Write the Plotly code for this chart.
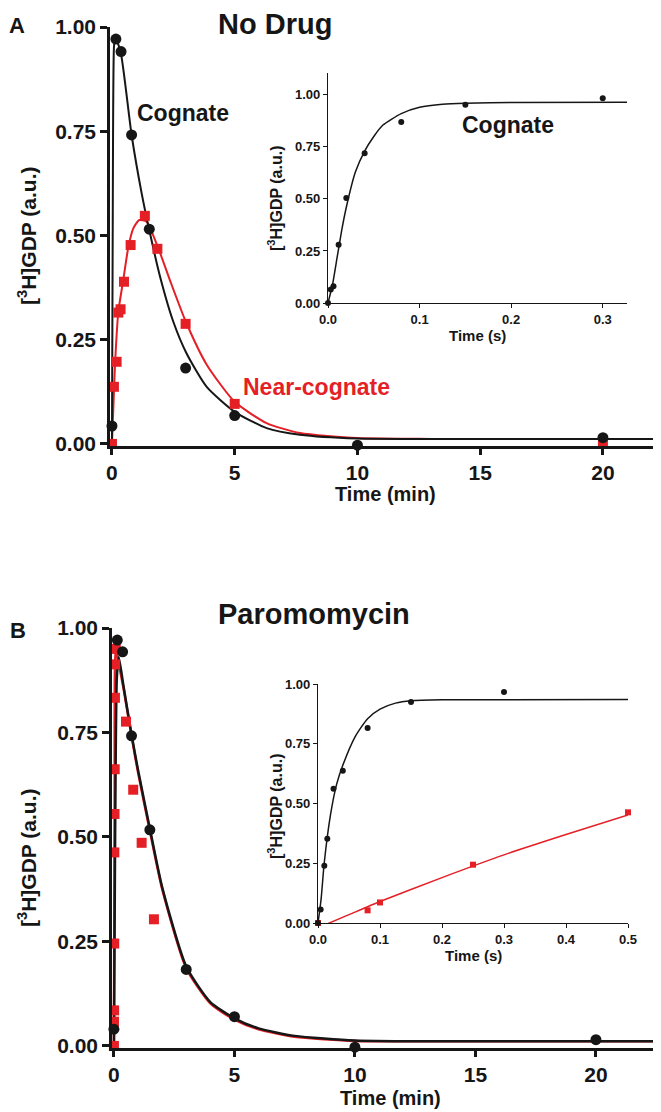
import plotly.graph_objects as go

# the page body adds an 8px margin, so the figure is drawn 8px in from the corner
OFF = 8
W, H = 661 - OFF, 1112 - OFF
RED = '#e41f26'
BLK = '#161616'
FONT = 'Liberation Sans, Arial, sans-serif'

# ---- Panel A, main (time in min) ----
a_cog_t = [0, 0.16, 0.37, 0.8, 1.52, 3.0, 5.0, 10.0, 20.0]
a_cog_y = [0.043, 0.971, 0.941, 0.741, 0.515, 0.182, 0.068, -0.003, 0.015]
a_near_t = [0, 0.08, 0.19, 0.26, 0.35, 0.49, 0.76, 1.34, 1.85, 3.0, 5.0, 10.0, 20.0]
a_near_y = [0.0, 0.137, 0.197, 0.315, 0.323, 0.389, 0.477, 0.547, 0.468, 0.288, 0.096, -0.02, 0.004]
# fitted curves
a_cogfit_t = [0, 0.03, 0.08, 0.13, 0.35, 0.8, 1.21, 1.52, 1.96, 2.5, 3.04, 3.86, 5.0, 6.3, 7.66, 10, 13, 22.04]
a_cogfit_y = [0, 0.5, 0.95, 0.975, 0.941, 0.741, 0.601, 0.513, 0.401, 0.293, 0.217, 0.137, 0.077, 0.038, 0.022, 0.013, 0.012, 0.012]
a_nearfit_t = [0, 0.12, 0.26, 0.46, 0.67, 0.87, 1.11, 1.41, 1.89, 2.36, 3.01, 3.86, 5.0, 6.3, 7.66, 10, 13, 22.04]
a_nearfit_y = [0, 0.185, 0.317, 0.393, 0.473, 0.517, 0.537, 0.533, 0.469, 0.393, 0.293, 0.19, 0.101, 0.05, 0.026, 0.014, 0.012, 0.012]

# ---- Panel A, inset (time in s) ----
ai_t = [0, 0.003, 0.006, 0.0116, 0.02, 0.04, 0.08, 0.15, 0.3]
ai_y = [0, 0.065, 0.08, 0.28, 0.505, 0.72, 0.869, 0.953, 0.984]
aifit_t = [0, 0.005, 0.01, 0.015, 0.02, 0.03, 0.04, 0.05, 0.06, 0.08, 0.1, 0.125, 0.15, 0.2, 0.3265]
aifit_y = [0, 0.09, 0.22, 0.35, 0.46, 0.63, 0.73, 0.8, 0.855, 0.91, 0.94, 0.955, 0.96, 0.963, 0.964]

# ---- Panel B, main (time in min) ----
b_cog_t = [0, 0.14, 0.36, 0.73, 1.49, 3.0, 5.0, 10.0, 20.0]
b_cog_y = [0.04, 0.971, 0.943, 0.742, 0.517, 0.183, 0.07, -0.003, 0.015]
b_near_t = [0, 0.004, 0.008, 0.012, 0.017, 0.025, 0.033, 0.042, 0.05, 0.075, 0.5, 0.8, 1.15, 1.66]
b_near_y = [0.0, 0.058, 0.085, 0.245, 0.463, 0.555, 0.662, 0.833, 0.913, 0.95, 0.776, 0.613, 0.486, 0.303]
b_cogfit_t = [0, 0.05, 0.12, 0.2, 0.4, 0.73, 1.0, 1.49, 2.0, 3.0, 4.0, 5.0, 6.0, 7.5, 10, 13, 22.7]
b_cogfit_y = [0, 0.5, 0.88, 0.93, 0.86, 0.745, 0.66, 0.52, 0.38, 0.19, 0.105, 0.066, 0.042, 0.024, 0.013, 0.011, 0.011]
b_nearfit_t = [0, 0.03, 0.07, 0.15, 0.4, 0.73, 1.0, 1.49, 2.0, 3.0, 4.0, 5.0, 6.0, 7.5, 10, 13, 22.7]
b_nearfit_y = [0, 0.6, 0.95, 0.93, 0.855, 0.742, 0.655, 0.515, 0.376, 0.186, 0.102, 0.063, 0.04, 0.022, 0.012, 0.011, 0.011]

# ---- Panel B, inset (time in s) ----
bi_cog_t = [0, 0.0043, 0.0102, 0.015, 0.025, 0.04, 0.08, 0.15, 0.3]
bi_cog_y = [0, 0.056, 0.24, 0.353, 0.562, 0.637, 0.816, 0.925, 0.967]
bi_near_t = [0, 0.08, 0.1, 0.25, 0.5]
bi_near_y = [0, 0.053, 0.086, 0.244, 0.463]
bi_cogfit_t = [0, 0.005, 0.01, 0.02, 0.03, 0.04, 0.06, 0.08, 0.1, 0.125, 0.15, 0.2, 0.5]
bi_cogfit_y = [0, 0.1, 0.25, 0.45, 0.58, 0.66, 0.78, 0.855, 0.895, 0.92, 0.93, 0.934, 0.935]
bi_nearfit_t = [0, 0.05, 0.1, 0.2, 0.3, 0.4, 0.5]
bi_nearfit_y = [-0.02, 0.035, 0.09, 0.19, 0.285, 0.37, 0.452]

y_ticks = [0, 0.25, 0.5, 0.75, 1.0]
main_x_ticks = [0, 5, 10, 15, 20]
ai_x_ticks = [0, 0.1, 0.2, 0.3]
bi_x_ticks = [0, 0.1, 0.2, 0.3, 0.4, 0.5]


# positions below are in page pixels
def xdom(p0, p1):
    return [(p0 - OFF) / W, (p1 - OFF) / W]


def ydom(ptop, pbot):
    return [1 - (pbot - OFF) / H, 1 - (ptop - OFF) / H]


fig = go.Figure()


def line(x, y, color, width, ax):
    fig.add_trace(go.Scatter(x=x, y=y, mode='lines', xaxis='x' + ax, yaxis='y' + ax,
                             line=dict(color=color, width=width, shape='spline', smoothing=0.6),
                             showlegend=False, hoverinfo='skip'))


def pts(x, y, color, symbol, size, ax):
    fig.add_trace(go.Scatter(x=x, y=y, mode='markers', xaxis='x' + ax, yaxis='y' + ax,
                             marker=dict(color=color, symbol=symbol, size=size, line=dict(width=0)),
                             cliponaxis=False, showlegend=False))


# panel A main
line(a_nearfit_t, a_nearfit_y, RED, 2, '')
line(a_cogfit_t, a_cogfit_y, BLK, 2, '')
pts(a_near_t, a_near_y, RED, 'square', 10, '')
pts(a_cog_t, a_cog_y, BLK, 'circle', 11, '')
# panel A inset
line(aifit_t, aifit_y, BLK, 1.5, '2')
pts(ai_t, ai_y, BLK, 'circle', 6, '2')
# panel B main
line(b_nearfit_t, b_nearfit_y, RED, 2.5, '3')
line(b_cogfit_t, b_cogfit_y, BLK, 2.5, '3')
pts(b_near_t, b_near_y, RED, 'square', 10, '3')
pts(b_cog_t, b_cog_y, BLK, 'circle', 11, '3')
# panel B inset
line(bi_nearfit_t, bi_nearfit_y, RED, 1.5, '4')
line(bi_cogfit_t, bi_cogfit_y, BLK, 1.5, '4')
pts(bi_near_t, bi_near_y, RED, 'square', 6, '4')
pts(bi_cog_t, bi_cog_y, BLK, 'circle', 6, '4')

main_tick_font = dict(family=FONT, size=21, color=BLK, weight='bold')
inset_tick_font = dict(family=FONT, size=13, color=BLK, weight='bold')


def xax(dom, rng, ticks, fmt, main, anchor):
    return dict(domain=dom, range=rng, anchor=anchor, tickvals=ticks, tickformat=fmt,
                showline=True, linecolor=BLK, linewidth=2.5 if main else 1.3,
                ticks='outside', ticklen=6 if main else 4, tickwidth=2.5 if main else 1.3,
                tickcolor=BLK, showgrid=False, zeroline=False, automargin=False,
                tickfont=main_tick_font if main else inset_tick_font)


def yax(dom, rng, main, anchor):
    return dict(domain=dom, range=rng, anchor=anchor, tickvals=y_ticks, tickformat='.2f',
                showline=True, linecolor=BLK, linewidth=2.5 if main else 1.3,
                ticks='outside', ticklen=7 if main else 4, tickwidth=2.5 if main else 1.3,
                tickcolor=BLK, showgrid=False, zeroline=False, automargin=False,
                tickfont=main_tick_font if main else inset_tick_font)


fig.update_layout(
    width=W, height=H, margin=dict(l=0, r=0, t=0, b=0, autoexpand=False),
    paper_bgcolor='white', plot_bgcolor='rgba(0,0,0,0)',
    xaxis=xax(xdom(110, 653), [-0.08, 22.04], main_x_ticks, 'd', True, 'y'),
    yaxis=yax(ydom(27, 446), [-0.005, 1.0], True, 'x'),
    xaxis2=xax(xdom(328, 627), [0, 0.3265], ai_x_ticks, '.1f', False, 'y2'),
    yaxis2=yax(ydom(73, 303), [0, 1.105], False, 'x2'),
    xaxis3=xax(xdom(112, 661), [-0.08, 22.7], main_x_ticks, 'd', True, 'y3'),
    yaxis3=yax(ydom(628, 1048), [-0.005, 1.0], True, 'x3'),
    xaxis4=xax(xdom(318, 628), [0, 0.5], bi_x_ticks, '.1f', False, 'y4'),
    yaxis4=yax(ydom(684, 923), [0, 1.0], False, 'x4'),
)


def text(s, px, py, size, color=BLK, angle=0, xanchor='center'):
    fig.add_annotation(text=s, x=(px - OFF) / W, y=1 - (py - OFF) / H, xref='paper', yref='paper',
                       xanchor=xanchor, yanchor='middle', showarrow=False, textangle=angle,
                       font=dict(family=FONT, size=size, color=color, weight='bold'))


ylab = '[<sup>3</sup>H]GDP (a.u.)'
text('A', 17, 26, 22)
text('B', 18, 630, 22)
text('No Drug', 216, 24, 29, xanchor='left')
text('Paromomycin', 216, 614, 29, xanchor='left')
text(ylab, 27, 236, 21, angle=-90)
text(ylab, 27, 858, 21, angle=-90)
text('Time (min)', 385, 494, 20)
text('Time (min)', 390, 1098, 20)
text('Cognate', 183, 113, 23)
text('Near-cognate', 316, 387, 23, color=RED)
text('Cognate', 508, 125, 23)
text(ylab, 275, 198, 16, angle=-90)
text(ylab, 275, 806, 16, angle=-90)
text('Time (s)', 477, 335, 15)
text('Time (s)', 473, 955, 15)

fig.write_html('out.html')
